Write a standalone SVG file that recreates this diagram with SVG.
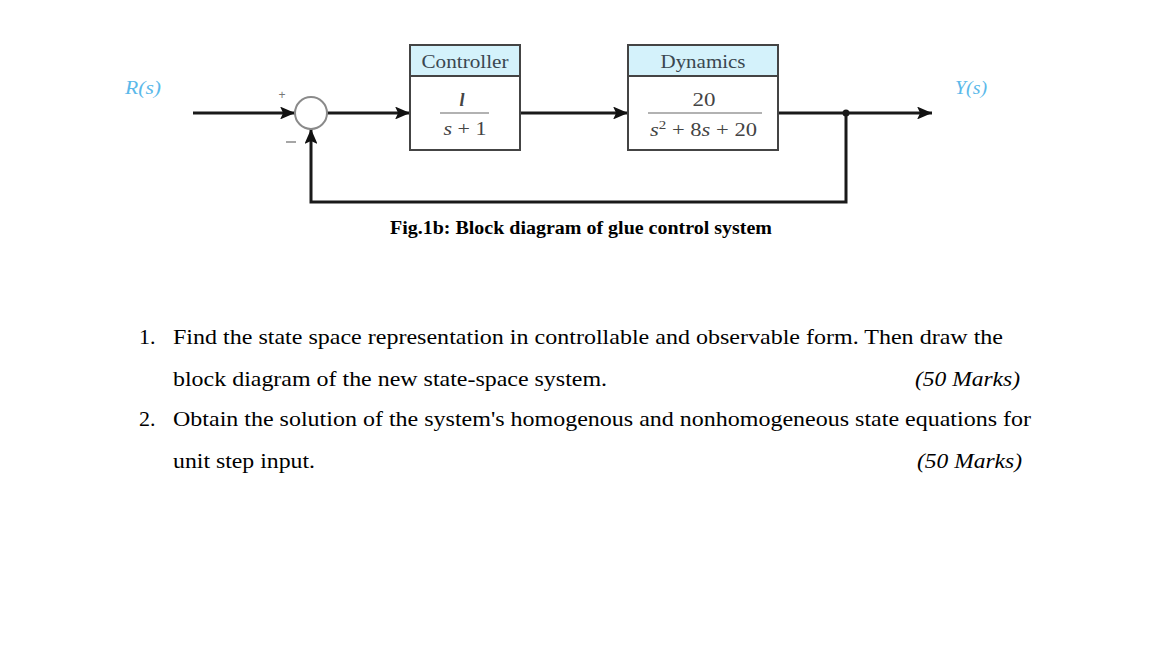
<svg xmlns="http://www.w3.org/2000/svg" width="1162" height="654" viewBox="0 0 1162 654">
<defs>
<marker id="ah" viewBox="0 0 15 13" refX="15" refY="6.5" markerWidth="5" markerHeight="4.3" orient="auto" markerUnits="strokeWidth">
<path d="M0,0 L15,6.5 L0,13 L3,6.5 Z" fill="#111"/>
</marker>
<style>
.sig{fill:none;stroke:#1a1a1a;stroke-width:3}
.box{fill:#fff;stroke:#444;stroke-width:2}
.hdr{fill:#d4f2fb;stroke:#444;stroke-width:2}
.ht{font-family:"Liberation Serif",serif;font-size:19px;fill:#3a4750;text-anchor:middle}
.ft{font-family:"Liberation Serif",serif;font-size:18px;fill:#444;text-anchor:middle}
.fs{font-family:"Liberation Serif",serif;font-size:18px;fill:#444;text-anchor:start}
.lbl{font-family:"Liberation Serif",serif;font-style:italic;font-size:18px;fill:#5bb9ea}
.body{font-family:"Liberation Serif",serif;font-size:22px;fill:#000}
.mk{font-family:"Liberation Serif",serif;font-style:italic;font-size:22px;fill:#000}
</style>
</defs>
<rect width="1162" height="654" fill="#fff"/>
<g id="connectors">
<line class="sig" x1="193" y1="113" x2="295" y2="113" marker-end="url(#ah)"/>
<line class="sig" x1="327" y1="113" x2="410" y2="113" marker-end="url(#ah)"/>
<line class="sig" x1="520" y1="113" x2="628" y2="113" marker-end="url(#ah)"/>
<line class="sig" x1="778" y1="113" x2="932" y2="113" marker-end="url(#ah)"/>
<polyline class="sig" points="846,113 846,202 311,202 311,129" marker-end="url(#ah)"/>
<circle cx="846" cy="113" r="3.5" fill="#1a1a1a"/>
</g>
<g id="R">
<text class="lbl" x="125" y="94" textLength="36" lengthAdjust="spacingAndGlyphs">R(s)</text>
</g>
<g id="Y">
<text class="lbl" x="955" y="94" textLength="32" lengthAdjust="spacingAndGlyphs">Y(s)</text>
</g>
<g id="sum">
<circle cx="311" cy="113" r="16" fill="#fff" stroke="#8a8a8a" stroke-width="2"/>
<text x="282" y="99" font-family="Liberation Sans,sans-serif" font-size="12" fill="#777" text-anchor="middle">+</text>
<line x1="286" y1="142" x2="296" y2="142" stroke="#888" stroke-width="1.5"/>
</g>
<g id="controller">
<rect class="box" x="410" y="45" width="110" height="105"/>
<rect class="hdr" x="410" y="45" width="110" height="31"/>
<text class="ht" x="465" y="68" textLength="87" lengthAdjust="spacingAndGlyphs">Controller</text>
<text class="ft" x="462" y="106" font-style="italic" font-weight="bold" font-size="19">l</text>
<line x1="440" y1="113" x2="489" y2="113" stroke="#666" stroke-width="1.2"/>
<text class="ft" x="465" y="135" textLength="43" lengthAdjust="spacingAndGlyphs"><tspan font-style="italic">s</tspan> + 1</text>
</g>
<g id="dynamics">
<rect class="box" x="628" y="45" width="150" height="105"/>
<rect class="hdr" x="628" y="45" width="150" height="31"/>
<text class="ht" x="703" y="68" textLength="85" lengthAdjust="spacingAndGlyphs">Dynamics</text>
<text class="ft" x="704" y="106" textLength="23" lengthAdjust="spacingAndGlyphs">20</text>
<line x1="648" y1="113" x2="762" y2="113" stroke="#666" stroke-width="1.2"/>
<text class="fs" x="650" y="136" textLength="107" lengthAdjust="spacingAndGlyphs"><tspan font-style="italic">s</tspan><tspan font-size="12" dy="-7">2</tspan><tspan dy="7"> + 8</tspan><tspan font-style="italic">s</tspan> + 20</text>
</g>
<g id="caption">
<text x="581" y="234" font-family="Liberation Serif,serif" font-weight="bold" font-size="19.5" text-anchor="middle" textLength="382" lengthAdjust="spacingAndGlyphs">Fig.1b: Block diagram of glue control system</text>
</g>
<g id="questions">
<text class="body" x="139" y="344">1.</text>
<text class="body" x="173" y="344" textLength="830" lengthAdjust="spacingAndGlyphs">Find the state space representation in controllable and observable form. Then draw the</text>
<text class="body" x="173" y="386" textLength="434" lengthAdjust="spacingAndGlyphs">block diagram of the new state-space system.</text>
<text class="mk" x="915" y="386" textLength="105" lengthAdjust="spacingAndGlyphs">(50 Marks)</text>
<text class="body" x="139" y="426">2.</text>
<text class="body" x="173" y="426" textLength="858" lengthAdjust="spacingAndGlyphs">Obtain the solution of the system's homogenous and nonhomogeneous state equations for</text>
<text class="body" x="173" y="468" textLength="142" lengthAdjust="spacingAndGlyphs">unit step input.</text>
<text class="mk" x="917" y="468" textLength="105" lengthAdjust="spacingAndGlyphs">(50 Marks)</text>
</g>
</svg>
